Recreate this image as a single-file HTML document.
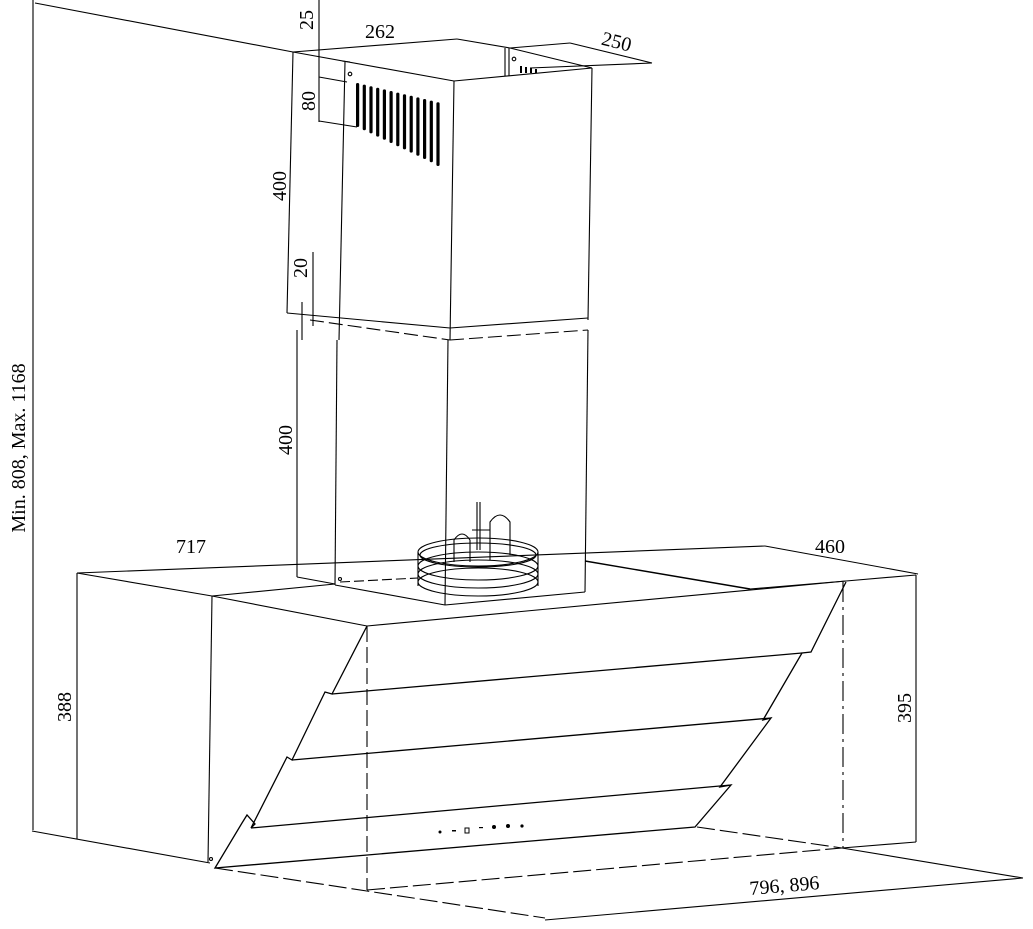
<!DOCTYPE html>
<html><head><meta charset="utf-8"><style>
html,body{margin:0;padding:0;background:#fff;}
svg{display:block;}
text{font-family:"Liberation Serif",serif;font-size:20px;fill:#000;}
</style></head><body>
<svg width="1033" height="929" viewBox="0 0 1033 929" xmlns="http://www.w3.org/2000/svg">
<g stroke="#000" fill="none" stroke-width="1.1">
<line x1="33" y1="0" x2="33" y2="830"/>
<line x1="35" y1="3" x2="293" y2="52"/>
<line x1="32" y1="831" x2="210" y2="863"/>
<line x1="293" y1="52" x2="457" y2="39"/>
<line x1="293" y1="52" x2="454" y2="81"/>
<line x1="454" y1="81" x2="592" y2="68"/>
<line x1="457" y1="39" x2="510" y2="48"/>
<line x1="510" y1="48" x2="570" y2="43"/>
<line x1="570" y1="43" x2="652" y2="63"/>
<line x1="530" y1="68" x2="652" y2="63"/>
<line x1="510" y1="48" x2="592" y2="68"/>
<line x1="505" y1="48" x2="505" y2="76"/>
<line x1="509" y1="48" x2="509" y2="76"/>
<circle cx="514" cy="59" r="1.8"/>
<line x1="345" y1="62" x2="339" y2="340"/>
<line x1="342" y1="61" x2="350" y2="62"/>
<circle cx="350" cy="74" r="1.8"/>
<line x1="454" y1="81" x2="450" y2="340"/>
<line x1="592" y1="68" x2="588" y2="320"/>
<line x1="319" y1="0" x2="319" y2="122"/>
<line x1="319" y1="77" x2="347" y2="82"/>
<line x1="319" y1="121" x2="357" y2="127"/>
<line x1="293" y1="52" x2="287" y2="313"/>
<line x1="313" y1="252" x2="313" y2="326"/>
<line x1="302" y1="302" x2="302" y2="340"/>
<line x1="287" y1="313" x2="450" y2="328"/>
<line x1="450" y1="328" x2="588" y2="318"/>
<line x1="310" y1="320" x2="450" y2="340" stroke-dasharray="14,5"/>
<line x1="450" y1="340" x2="588" y2="330" stroke-dasharray="14,5"/>
<line x1="297" y1="330" x2="297" y2="577"/>
<line x1="297" y1="577" x2="335" y2="584"/>
<line x1="337" y1="340" x2="335" y2="585"/>
<line x1="448" y1="340" x2="445" y2="605"/>
<line x1="588" y1="330" x2="585" y2="592"/>
<line x1="335" y1="585" x2="445" y2="605"/>
<line x1="445" y1="605" x2="585" y2="592"/>
<line x1="340" y1="582" x2="418" y2="578" stroke-dasharray="10,4"/>
<circle cx="340" cy="579" r="1.5"/>
<line x1="77" y1="573" x2="765" y2="546"/>
<line x1="765" y1="546" x2="918" y2="574"/>
<line x1="77" y1="573" x2="212" y2="596"/>
<line x1="212" y1="596" x2="335" y2="584"/>
<line x1="212" y1="596" x2="367" y2="626"/>
<line x1="367" y1="626" x2="846" y2="581"/>
<line x1="846" y1="581" x2="916" y2="575"/>
<line x1="585" y1="561" x2="750" y2="589" stroke-width="1.4"/>
<line x1="750" y1="589" x2="846" y2="581"/>
<line x1="77" y1="573" x2="77" y2="839"/>
<line x1="212" y1="596" x2="208" y2="862"/>
<circle cx="211" cy="859" r="1.5"/>
<line x1="916" y1="575" x2="916" y2="842"/>
<line x1="842" y1="848" x2="916" y2="842"/>
<line x1="843" y1="582" x2="843" y2="848" stroke-dasharray="20,5,3,5"/>
<polyline points="367,626 332,694 325,692 292,760 287,757 251,828 255,824 247,815 242,823 215,868 695,827 731,785 720,787 771,718 763,720 802,653 811,652 846,582" stroke-width="1.3"/>
<line x1="332" y1="694" x2="802" y2="653" stroke-width="1.3"/>
<line x1="292" y1="760" x2="771" y2="718" stroke-width="1.3"/>
<line x1="251" y1="828" x2="731" y2="785" stroke-width="1.3"/>
<line x1="367" y1="626" x2="367" y2="890" stroke-dasharray="16,5"/>
<line x1="215" y1="868" x2="545" y2="918" stroke-dasharray="18,5"/>
<line x1="367" y1="890" x2="842" y2="848" stroke-dasharray="18,5"/>
<line x1="697" y1="827" x2="842" y2="848" stroke-dasharray="18,5"/>
<line x1="842" y1="848" x2="1023" y2="878"/>
<line x1="545" y1="920" x2="1023" y2="878"/>
<ellipse cx="478" cy="552" rx="60" ry="14"/>
<ellipse cx="478" cy="555" rx="58" ry="12"/>
<ellipse cx="478" cy="566" rx="60" ry="14"/>
<ellipse cx="478" cy="574" rx="60" ry="14"/>
<ellipse cx="478" cy="582" rx="60" ry="14"/>
<line x1="418" y1="552" x2="418" y2="586"/>
<line x1="538" y1="552" x2="538" y2="586"/>
<path d="M454 562 V540 Q462 528 470 540 V562"/>
<path d="M490 560 V522 Q500 508 510 522 V555"/>
<line x1="477" y1="502" x2="477" y2="550"/>
<line x1="480" y1="502" x2="480" y2="550"/>
<line x1="472" y1="530" x2="490" y2="530"/>
</g>
<g fill="#000">
<rect x="356" y="83" width="3.2" height="44" rx="1.5"/>
<rect x="362.7" y="84.6" width="3.2" height="45.6" rx="1.5"/>
<rect x="369.4" y="86.2" width="3.2" height="47.2" rx="1.5"/>
<rect x="376.1" y="87.8" width="3.2" height="48.8" rx="1.5"/>
<rect x="382.8" y="89.4" width="3.2" height="50.4" rx="1.5"/>
<rect x="389.5" y="91" width="3.2" height="52" rx="1.5"/>
<rect x="396.2" y="92.6" width="3.2" height="53.6" rx="1.5"/>
<rect x="402.9" y="94.2" width="3.2" height="55.2" rx="1.5"/>
<rect x="409.6" y="95.8" width="3.2" height="56.8" rx="1.5"/>
<rect x="416.3" y="97.4" width="3.2" height="58.4" rx="1.5"/>
<rect x="423" y="99" width="3.2" height="60" rx="1.5"/>
<rect x="429.7" y="100.6" width="3.2" height="61.6" rx="1.5"/>
<rect x="436.4" y="102.2" width="3.2" height="63.8" rx="1.5"/>
<rect x="520" y="66" width="2" height="7"/><rect x="525" y="67" width="2" height="6"/><rect x="530" y="68" width="2" height="5"/><rect x="535" y="69" width="2" height="4"/>
<circle cx="440" cy="832" r="1.5"/><rect x="452" y="830" width="4" height="1.5"/><rect x="465" y="828" width="4" height="5" fill="none" stroke="#000"/><rect x="479" y="827" width="4" height="1.2"/><circle cx="494" cy="827" r="2"/><circle cx="508" cy="826" r="2"/><circle cx="522" cy="826" r="1.6"/>
</g>
<text x="0" y="0" transform="translate(25,448) rotate(-90)" text-anchor="middle">Min. 808, Max. 1168</text>
<text x="0" y="0" transform="translate(313,20) rotate(-90)" text-anchor="middle">25</text>
<text x="380" y="38" text-anchor="middle">262</text>
<text x="0" y="0" transform="translate(615,48) rotate(14)" text-anchor="middle">250</text>
<text x="0" y="0" transform="translate(315,101) rotate(-90)" text-anchor="middle">80</text>
<text x="0" y="0" transform="translate(286,186) rotate(-90)" text-anchor="middle">400</text>
<text x="0" y="0" transform="translate(307,268) rotate(-90)" text-anchor="middle">20</text>
<text x="0" y="0" transform="translate(292,440) rotate(-90)" text-anchor="middle">400</text>
<text x="191" y="553" text-anchor="middle">717</text>
<text x="830" y="553" text-anchor="middle">460</text>
<text x="0" y="0" transform="translate(71,707) rotate(-90)" text-anchor="middle">388</text>
<text x="0" y="0" transform="translate(911,708) rotate(-90)" text-anchor="middle">395</text>
<text x="0" y="0" transform="translate(785,892) rotate(-5)" text-anchor="middle">796, 896</text>
</svg>
</body></html>
